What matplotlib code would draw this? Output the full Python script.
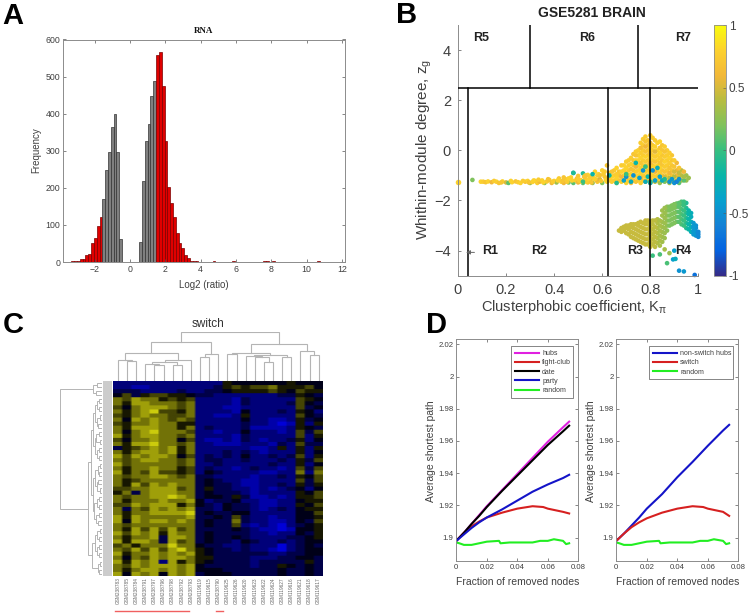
import numpy as np
from matplotlib import pyplot as plt
from matplotlib.colors import LinearSegmentedColormap

plt.rcParams["font.family"] = ["Liberation Sans", "DejaVu Sans"]
plt.rcParams["mathtext.default"] = "regular"

W, H = 750, 613

# panel A
hist_start = -3.25
hist_width = 0.16
hist_counts = [4, 3, 2, 7, 8, 20, 22, 50, 65, 98, 122, 170, 247, 296, 364, 398, 296, 63,
               0, 0, 0, 0, 0, 0,
               55, 219, 325, 372, 448, 488, 558, 566, 475, 327, 201, 160, 122, 78, 50, 39, 18, 12,
               2, 3, 3, 1, 1, 0, 1, 1, 2, 1, 0, 0, 1, 1, 1, 2, 1, 0, 0, 0, 1, 0, 1, 0, 1, 1, 3, 3,
               1, 2, 1, 1, 0, 0, 0, 1, 1, 0, 0, 1, 0, 1, 1, 0, 1, 2, 1, 0, 0, 0, 1, 0, 1]
hist_x_ticks = [-2, 0, 2, 4, 6, 8, 10, 12]
hist_y_ticks = [0, 100, 200, 300, 400, 500, 600]

# panel B
tail_x = [0.06, 0.095, 0.105, 0.115, 0.125, 0.14, 0.16, 0.17, 0.185, 0.2, 0.21, 0.225, 0.24, 0.25, 0.26,
          0.28, 0.29, 0.3, 0.31, 0.32, 0.33, 0.34, 0.35, 0.36, 0.37, 0.38, 0.39, 0.4, 0.41, 0.42, 0.43,
          0.44, 0.45, 0.46, 0.47, 0.48, 0.48, 0.49, 0.5, 0.5, 0.51, 0.52, 0.52, 0.53, 0.54, 0.54, 0.55,
          0.56, 0.56, 0.57, 0.58, 0.58, 0.59, 0.6, 0.6, 0.61, 0.62, 0.62, 0.63,
          0.15, 0.18, 0.22, 0.27, 0.295, 0.315, 0.335, 0.355, 0.375, 0.395, 0.415, 0.435, 0.455, 0.475, 0.495,
          0.505, 0.515, 0.525, 0.535, 0.545, 0.555, 0.565, 0.575, 0.585, 0.595, 0.605, 0.615, 0.625, 0.635,
          0.44, 0.46, 0.5, 0.53, 0.55, 0.57, 0.59, 0.61]
tail_y = [-1.18, -1.25, -1.25, -1.27, -1.24, -1.27, -1.25, -1.3, -1.24, -1.28, -1.3, -1.27, -1.24, -1.27, -1.3,
          -1.25, -1.22, -1.3, -1.26, -1.22, -1.3, -1.25, -1.2, -1.3, -1.24, -1.18, -1.3, -1.22, -1.28, -1.12, -1.25,
          -1.3, -1.16, -1.28, -1.08, -1.3, -0.9, -1.2, -1.28, -1.02, -1.18, -0.92, -1.3, -1.12, -1.28, -0.98, -1.2,
          -1.05, -1.3, -0.85, -1.25, -1.0, -1.15, -0.8, -1.3, -1.05, -0.6, -1.25, -0.9,
          -1.22, -1.28, -1.22, -1.22, -1.28, -1.2, -1.17, -1.28, -1.15, -1.25, -1.2, -1.22, -1.25, -1.2, -1.12,
          -1.22, -1.25, -1.05, -1.25, -1.15, -1.28, -1.12, -1.18, -0.95, -1.22, -0.95, -1.18, -1.1, -1.2,
          -1.08, -1.12, -1.15, -1.0, -1.05, -1.15, -1.0, -0.85]
tail_c = [0.2, 0.8, 0.75, 0.7, 0.8, 0.6, 0.8, 0.7, 0.8, 0.5, 0.1, 0.8, 0.7, 0.75, 0.8,
          0.7, 0.8, 0.3, 0.8, 0.7, 0.75, 0.6, 0.8, 0.2, 0.75, 0.7, 0.6, 0.8, 0.3, 0.75, 0.8,
          0.6, 0.75, 0.2, 0.8, 0.1, -0.3, 0.75, 0.6, 0.7, 0.8, -0.1, 0.1, 0.75, 0.7, 0.8, 0.6,
          0.75, 0.3, 0.8, 0.7, 0.75, 0.5, 0.8, 0.2, 0.7, 0.7, 0.8, 0.75,
          0.75, 0.7, 0.8, 0.75, 0.7, 0.8, 0.75, 0.8, 0.7, 0.75, 0.8, 0.7, 0.75, 0.8, 0.7,
          0.75, 0.8, 0.7, 0.75, 0.8, 0.7, 0.75, 0.6, 0.8, 0.7, 0.75, 0.8, 0.7, 0.75,
          0.7, 0.8, 0.75, 0.7, 0.75, 0.8, 0.7, 0.75]

upper_cols = [0.64, 0.66, 0.68, 0.70, 0.72, 0.74, 0.76, 0.78, 0.80, 0.82, 0.84, 0.86, 0.88, 0.90, 0.92, 0.94, 0.96]
upper_ys = [[-1.25, -1.05, -0.85],
            [-1.3, -1.1, -0.95, -0.7],
            [-1.25, -1.05, -0.85, -0.6],
            [-1.3, -1.1, -0.9, -0.7, -0.45],
            [-1.3, -1.15, -0.95, -0.75, -0.55, -0.3],
            [-1.25, -1.05, -0.85, -0.65, -0.4, -0.2, -0.05],
            [-1.3, -1.1, -0.9, -0.7, -0.5, -0.3, -0.1, 0.1, 0.3],
            [-1.25, -1.05, -0.85, -0.65, -0.45, -0.25, -0.05, 0.15, 0.35, 0.55],
            [-1.3, -1.1, -0.9, -0.7, -0.5, -0.3, -0.1, 0.1, 0.3, 0.6],
            [-1.25, -1.05, -0.85, -0.65, -0.45, -0.25, -0.05, 0.15, 0.4],
            [-1.3, -1.1, -0.9, -0.7, -0.5, -0.3, -0.1, 0.1, 0.35],
            [-1.25, -1.05, -0.85, -0.65, -0.45, -0.25, -0.05, 0.15],
            [-1.3, -1.1, -0.9, -0.7, -0.5, -0.3, -0.1],
            [-1.25, -1.05, -0.85, -0.65, -0.4],
            [-1.3, -1.1, -0.9, -0.7],
            [-1.2, -1.05, -0.85],
            [-1.1]]
upper_cs = [[0.75, 0.8, 0.7],
            [0.7, 0.8, 0.75, 0.8],
            [0.75, 0.6, 0.8, 0.75],
            [0.8, 0.7, 0.75, 0.8, 0.75],
            [0.6, 0.75, 0.8, 0.7, 0.8, 0.75],
            [0.7, 0.8, 0.75, 0.6, 0.8, 0.7, 0.75],
            [0.75, 0.6, 0.8, 0.75, 0.7, 0.8, 0.75, 0.65, 0.75],
            [0.6, 0.75, 0.8, 0.5, 0.75, 0.8, 0.7, 0.6, 0.7, 0.75],
            [0.5, 0.7, 0.8, 0.75, 0.6, 0.8, 0.7, 0.75, 0.65, 0.75],
            [0.4, 0.75, 0.6, 0.8, 0.7, 0.75, 0.55, 0.8, 0.75],
            [0.3, 0.6, 0.75, 0.8, 0.7, 0.75, 0.8, 0.7, 0.8],
            [0.2, 0.5, 0.7, 0.75, 0.8, 0.75, 0.7, 0.75],
            [0.3, 0.4, 0.6, 0.7, 0.75, 0.8, 0.75],
            [0.2, 0.4, 0.5, 0.7, 0.75],
            [0.1, 0.4, 0.45, 0.7],
            [0.1, 0.35, 0.6],
            [0.3]]
upper2_cols = [0.65, 0.67, 0.69, 0.71, 0.73, 0.75, 0.77, 0.79, 0.81, 0.83, 0.85, 0.87, 0.89, 0.91, 0.93, 0.95]
upper2_ys = [[-1.2, -1.0, -0.8],
             [-1.2, -1.0, -0.85],
             [-1.2, -1.0, -0.8, -0.6],
             [-1.2, -1.0, -0.8, -0.6, -0.4],
             [-1.2, -1.0, -0.8, -0.6, -0.4, -0.15],
             [-1.2, -1.0, -0.8, -0.6, -0.4, -0.2, 0.0],
             [-1.2, -1.0, -0.8, -0.6, -0.4, -0.2, 0.0, 0.2, 0.45],
             [-1.2, -1.0, -0.8, -0.6, -0.4, -0.2, 0.0, 0.2, 0.4],
             [-1.2, -1.0, -0.8, -0.6, -0.4, -0.2, 0.0, 0.2, 0.5],
             [-1.2, -1.0, -0.8, -0.6, -0.4, -0.2, 0.0, 0.3],
             [-1.2, -1.0, -0.8, -0.6, -0.4, -0.2, 0.0, 0.2],
             [-1.2, -1.0, -0.8, -0.6, -0.4, -0.2, 0.0],
             [-1.2, -1.0, -0.8, -0.6, -0.4, -0.2],
             [-1.2, -1.0, -0.8, -0.5],
             [-1.2, -1.0, -0.8],
             [-1.2, -1.0]]
upper2_cs = [0.75, 0.7, 0.8, 0.75, 0.7, 0.8, 0.75, 0.7, 0.75, 0.8, 0.7, 0.75, 0.7, 0.6, 0.4, 0.3]
blue_x = [0.48, 0.52, 0.56, 0.63, 0.66, 0.69, 0.7, 0.7, 0.72, 0.73, 0.74, 0.755, 0.77, 0.78, 0.79, 0.8, 0.8, 0.81, 0.82,
          0.83, 0.85, 0.86, 0.88, 0.89, 0.9, 0.91, 0.92, 0.78, 0.84]
blue_y = [-0.9, -1.25, -0.95, -1.0, -1.3, -1.2, -1.05, -0.95, -1.25, -1.0, -0.5, -1.1, -0.8, -1.25, -1.05, -1.3, -1.25, -0.8, -1.2,
          -0.7, -1.2, -1.15, -1.25, -1.15, -1.3, -1.25, -1.15, -0.65, -1.05]
blue_c = [-0.1, 0.0, -0.2, -0.2, -0.1, -0.4, -0.5, 0.0, -0.3, -0.5, -0.2, -0.4, -0.5, -0.3, -0.2, -0.4, -0.1, -0.5, -0.4,
          -0.3, -0.3, -0.1, -0.5, -0.45, -0.5, -0.6, -0.5, 0.0, -0.4]

lower_cols = [0.67, 0.68, 0.70, 0.72, 0.74, 0.76, 0.78, 0.80, 0.82, 0.84, 0.86, 0.88, 0.90, 0.92, 0.94, 0.96, 0.98, 1.0]
lower_ys = [[-3.2], [-3.25, -3.1], [-3.3, -3.1, -3.0], [-3.45, -3.25, -3.05, -2.95],
            [-3.55, -3.35, -3.15, -2.95], [-3.65, -3.45, -3.25, -3.05, -2.85],
            [-3.75, -3.55, -3.35, -3.15, -2.95, -2.8], [-3.85, -3.65, -3.45, -3.25, -3.05, -2.85],
            [-3.85, -3.65, -3.45, -3.25, -3.05, -2.8], [-3.8, -3.6, -3.4, -3.2, -3.0, -2.8],
            [-3.5, -3.3, -3.1, -2.9, -2.7, -2.5, -2.3], [-3.0, -2.8, -2.6, -2.4, -2.25],
            [-2.9, -2.7, -2.5, -2.3, -2.15], [-2.85, -2.65, -2.45, -2.25, -2.1],
            [-3.0, -2.8, -2.6, -2.4, -2.2, -2.05], [-3.15, -2.95, -2.75, -2.55, -2.4],
            [-3.35, -3.2, -3.05, -2.9], [-3.45, -3.35, -3.25]]
lower_cs = [0.45, 0.45, 0.45, 0.45, 0.45, 0.45, 0.45, 0.45, 0.42, 0.35, 0.3, 0.2, 0.2, 0.1, 0.0, -0.2, -0.45, -0.55]
lower2_cols = [0.69, 0.71, 0.73, 0.75, 0.77, 0.79, 0.81, 0.83, 0.85, 0.87, 0.89, 0.91, 0.93, 0.95, 0.97, 0.99]
lower2_ys = [[-3.2, -3.05], [-3.35, -3.15, -3.0], [-3.5, -3.3, -3.1, -2.95], [-3.6, -3.4, -3.2, -3.0, -2.9],
             [-3.7, -3.5, -3.3, -3.1, -2.9], [-3.75, -3.55, -3.35, -3.15, -2.95, -2.8],
             [-3.75, -3.55, -3.35, -3.15, -2.95, -2.8], [-3.7, -3.5, -3.3, -3.1, -2.9, -2.75],
             [-3.65, -3.45, -3.25, -3.05, -2.85, -2.6, -2.4], [-3.2, -3.0, -2.8, -2.6, -2.4, -2.25],
             [-2.95, -2.75, -2.55, -2.35, -2.2], [-2.85, -2.65, -2.45, -2.25, -2.12],
             [-2.95, -2.75, -2.55, -2.35, -2.15, -2.05], [-3.1, -2.9, -2.7, -2.5, -2.3, -2.1],
             [-3.25, -3.05, -2.85, -2.65, -2.5], [-3.4, -3.25, -3.1, -3.0]]
lower2_cs = [0.45, 0.45, 0.45, 0.45, 0.45, 0.45, 0.42, 0.38, 0.32, 0.25, 0.2, 0.15, 0.05, -0.1, -0.3, -0.5]
stray_x = [0.81, 0.84, 0.86, 0.87, 0.88, 0.895, 0.9, 0.905, 0.92, 0.94, 0.985]
stray_y = [-4.2, -4.15, -3.95, -4.5, -4.1, -4.35, -4.0, -4.33, -4.8, -4.83, -4.97]
stray_c = [0.0, 0.05, 0.35, 0.05, 0.3, -0.4, -0.4, -0.3, -0.5, -0.45, -0.7]
region_names = ["R5", "R6", "R7", "R1", "R2", "R3", "R4"]
region_x = [0.097, 0.537, 0.935, 0.132, 0.336, 0.737, 0.9375]
region_y = [4.47, 4.47, 4.47, -4.03, -4.03, -4.03, -4.03]

# panel C, one digit per cell: 0 bright blue, 4 black, 9 bright yellow
heat_rows = [
    "222222222 222 54444445 444",
    "221122222 223 56566755 564",
    "333222232 233 45555654 655",
    "463566554 332 22222233 543",
    "768775656 222 21322222 654",
    "758877767 222 21322223 643",
    "647888767 222 11222222 634",
    "757896657 222 21422232 542",
    "657877667 221 12522222 643",
    "748787676 222 22422112 534",
    "657787755 222 22322101 525",
    "758887757 232 22311112 543",
    "747897776 221 22422212 636",
    "857887767 222 21322222 625",
    "647787746 211 21321223 524",
    "758897767 221 11222132 633",
    "356787857 222 22211252 525",
    "757887857 222 32321222 524",
    "868788746 232 32422323 625",
    "767887767 233 22322232 536",
    "867777767 223 22222322 524",
    "757787756 232 21232212 636",
    "857686656 243 22221122 727",
    "767788767 332 22212232 546",
    "756777777 343 22112222 636",
    "758687877 343 32112232 535",
    "667788867 353 32212123 424",
    "573788877 343 33212222 546",
    "767788987 344 35311212 556",
    "757778778 423 34221122 455",
    "668788857 432 43321122 546",
    "737687878 332 43321232 455",
    "757788889 343 34422222 446",
    "858777778 334 36322122 445",
    "848788787 343 37322112 436",
    "767777777 343 36212102 345",
    "758686867 333 34321101 445",
    "868785877 343 33322122 435",
    "757783887 343 34322223 345",
    "858873867 343 32432232 344",
    "675777977 433 22322202 343",
    "768686897 543 32322102 344",
    "857787878 543 33333223 344",
    "747687887 553 33322233 443",
    "858782857 543 33323333 353",
    "768788878 433 33323354 343",
    "757887878 444 33333343 343",
    "848784878 344 43333343 343",
]
heat_labels = ["GSM238783", "GSM238785", "GSM238784", "GSM238791", "GSM238797", "GSM238796", "GSM238798",
               "GSM238792", "GSM238793", "GSM119619", "GSM119615", "GSM238790", "GSM119625", "GSM119626",
               "GSM119620", "GSM119623", "GSM119622", "GSM119624", "GSM119627", "GSM119616", "GSM119621",
               "GSM119618", "GSM119617"]

# column tree, (merge height, left, right), leaves are column numbers
col_left = (115, (82, (62, 0, (58, 1, 2)), (62, (54, (48, 3, (45, 4, 5)), (45, 6, 7)), 8)), (78, (70, 9, 10), 11))
col_mid = (83, (78, 12, 13), (75, (72, 14, (70, 15, (55, 16, 17))), (70, 18, 19)))
col_tree = (145, col_left, (107, col_mid, (88, 20, (77, 21, 22))))

# row tree, leaves are row numbers
q1 = (16, (8, 4, 5), (10, 6, 7))
q2 = (14, (7, 8, 9), (11, 10, 11))
q3 = (17, (9, 12, 13), (6, 14, 15))
q4 = (15, (10, 16, 17), (8, 18, 19))
q5 = (13, (7, 20, 21), (9, 22, 23))
q6 = (16, (11, 24, 25), (6, 26, 27))
q7 = (14, (8, 28, 29), (10, 30, 31))
q8 = (18, (9, 32, 33), (12, 34, 35))
q9 = (15, (7, 36, 37), (10, 38, 39))
q10 = (16, (9, 40, 41), (8, 42, 43))
q11 = (13, (6, 44, 45), (8, 46, 47))
row_upper = (32, (26, (20, q1, q2), (22, q3, q4)), (28, (21, q5, q6), (23, q7, q8)))
row_lower = (29, (20, q9, q10), q11)
row_top = (26, (14, 0, 1), (17, 2, 3))
row_tree = (125, row_top, (42, row_upper, row_lower))

# panel D
frac_a = [0, 0.005, 0.01, 0.015, 0.02, 0.03, 0.04, 0.05, 0.06, 0.07, 0.074]
hubs = [1.898, 1.903, 1.9085, 1.914, 1.9195, 1.9295, 1.9395, 1.9495, 1.9595, 1.9685, 1.972]
date = [1.898, 1.903, 1.9085, 1.9135, 1.919, 1.929, 1.9385, 1.948, 1.9575, 1.966, 1.9695]
party = [1.898, 1.902, 1.906, 1.9095, 1.9125, 1.9175, 1.923, 1.9285, 1.933, 1.937, 1.939]
frac_red = [0, 0.005, 0.01, 0.015, 0.02, 0.03, 0.04, 0.05, 0.057, 0.06, 0.07, 0.074]
fight_club = [1.898, 1.903, 1.907, 1.91, 1.9125, 1.9155, 1.918, 1.9195, 1.919, 1.918, 1.916, 1.915]
switch = [1.898, 1.9025, 1.9065, 1.9095, 1.912, 1.9155, 1.918, 1.9195, 1.919, 1.918, 1.916, 1.9135]
frac_rand = [0, 0.002, 0.005, 0.01, 0.015, 0.02, 0.028, 0.029, 0.035, 0.04, 0.05, 0.055, 0.06, 0.064, 0.07, 0.072, 0.074]
rand_path = [1.897, 1.8965, 1.8955, 1.8955, 1.8965, 1.8975, 1.898, 1.8965, 1.897, 1.897, 1.897, 1.898, 1.898, 1.899, 1.898, 1.896, 1.8965]
non_switch = [1.898, 1.9025, 1.9075, 1.9125, 1.918, 1.927, 1.9375, 1.947, 1.957, 1.9665, 1.97]
d_x_ticks = [0, 0.02, 0.04, 0.06, 0.08]
d_y_ticks = [1.9, 1.92, 1.94, 1.96, 1.98, 2, 2.02]

parula = LinearSegmentedColormap.from_list("parula", [
    (0.208, 0.166, 0.529), (0.012, 0.388, 0.882), (0.078, 0.504, 0.838), (0.024, 0.629, 0.804),
    (0.03, 0.71, 0.66), (0.216, 0.75, 0.5),
    (0.5, 0.76, 0.36), (0.72, 0.74, 0.25), (0.95, 0.72, 0.22), (0.99, 0.82, 0.18), (0.976, 0.983, 0.054)])
heat_cmap = LinearSegmentedColormap.from_list("heat", [(0, 0, 0.85), (0, 0, 0), (0.8, 0.8, 0.05)])

TEXT = "#404040"
AXIS = "#8c8c8c"


def px_axes(fig, x0, y0, x1, y1):
    return fig.add_axes([x0 / W, 1 - y1 / H, (x1 - x0) / W, (y1 - y0) / H])


def px_text(fig, x, y, s, **kw):
    kw.setdefault("ha", "center")
    kw.setdefault("va", "center")
    kw.setdefault("color", TEXT)
    fig.text(x / W, 1 - y / H, s, **kw)


def style_axes(ax, size):
    for side in ax.spines.values():
        side.set_color(AXIS)
        side.set_linewidth(0.7)
    ax.tick_params(direction="in", length=2, width=0.5, color="#555555", labelsize=size,
                   labelcolor=TEXT, pad=2)


def tree_lines(node, lines):
    # returns leaf position and height, collecting the bracket lines
    if not isinstance(node, tuple):
        return node + 0.5, 0
    h, left, right = node
    p1, h1 = tree_lines(left, lines)
    p2, h2 = tree_lines(right, lines)
    lines.append(([p1, p1, p2, p2], [h1, h, h, h2]))
    return (p1 + p2) / 2, h


def flatten_cols(cols, col_ys, col_cs):
    # col_cs holds one colour per column or one per point
    xs, ys, cs = [], [], []
    for col, y_list, c_list in zip(cols, col_ys, col_cs):
        if not isinstance(c_list, list):
            c_list = [c_list] * len(y_list)
        for y, c in zip(y_list, c_list):
            xs.append(col)
            ys.append(y)
            cs.append(c)
    return xs, ys, cs


def draw_hist(fig):
    ax = px_axes(fig, 63.3, 39.5, 345, 262)
    x = [hist_start + hist_width * i for i in range(len(hist_counts))]
    for xi, count in zip(x, hist_counts):
        if count == 0:
            continue
        red = xi < -1.57 or xi > 1.45
        ax.bar(xi, count, width=hist_width, color="#e00000" if red else "#7f7f7f",
               edgecolor="#7a0000" if red else "#333333", linewidth=0.5)
    ax.set_xlim(-3.78, 12.17)
    ax.set_ylim(0, 600)
    ax.set_xticks(hist_x_ticks)
    ax.set_yticks(hist_y_ticks)
    style_axes(ax, 6.3)
    ax.tick_params(top=True, right=True)
    px_text(fig, 204, 31, "RNA", family="Liberation Serif", weight="bold", size=6.5, color="#111111")
    px_text(fig, 204, 285, "Log2 (ratio)", size=7)
    px_text(fig, 36, 150, "Frequency", size=7, rotation=90)


def draw_scatter(fig):
    ax = px_axes(fig, 458, 25, 698.3, 275.7)
    x1, y1, c1 = flatten_cols(upper_cols, upper_ys, upper_cs)
    x2, y2, c2 = flatten_cols(upper2_cols, upper2_ys, upper2_cs)
    x3, y3, c3 = flatten_cols(lower_cols, lower_ys, lower_cs)
    x4, y4, c4 = flatten_cols(lower2_cols, lower2_ys, lower2_cs)
    xs = tail_x + x2 + x1 + blue_x + x4 + x3 + stray_x
    ys = tail_y + y2 + y1 + blue_y + y4 + y3 + stray_y
    cs = tail_c + c2 + c1 + blue_c + c4 + c3 + stray_c
    sc = ax.scatter(xs, ys, c=cs, cmap=parula, vmin=-1, vmax=1, s=11, linewidths=0, zorder=2, clip_on=False)
    ax.scatter([0], [-1.27], c=[0.8], cmap=parula, vmin=-1, vmax=1, s=16, linewidths=0, clip_on=False, zorder=2)
    ax.plot([0, 1], [2.5, 2.5], color="black", lw=1.1, zorder=3)
    for x in [0.04, 0.625, 0.8]:
        ax.plot([x, x], [-5, 2.5], color="black", lw=1.1, zorder=3)
    for x in [0.3, 0.75]:
        ax.plot([x, x], [2.5, 5], color="black", lw=1.1, zorder=3)
    for name, x, y in zip(region_names, region_x, region_y):
        ax.text(x, y, name, ha="center", va="center", weight="bold", size=9, color="#222222", zorder=4)
    ax.annotate("", xy=(0.022, -4.07), xytext=(0.08, -4.07),
                arrowprops=dict(arrowstyle="-|>", color="#666666", lw=0.7, mutation_scale=6))
    ax.set_xlim(0, 1)
    ax.set_ylim(-5, 5)
    ax.set_xticks([0, 0.2, 0.4, 0.6, 0.8, 1])
    ax.set_xticklabels(["0", "0.2", "0.4", "0.6", "0.8", "1"])
    ax.set_yticks([-4, -2, 0, 2, 4])
    style_axes(ax, 10.5)
    ax.tick_params(pad=5)
    ax.spines["top"].set_visible(False)
    ax.spines["right"].set_visible(False)
    cax = px_axes(fig, 714, 25, 726, 275.7)
    bar = fig.colorbar(sc, cax=cax)
    bar.set_ticks([-1, -0.5, 0, 0.5, 1])
    bar.set_ticklabels(["-1", "-0.5", "0", "0.5", "1"])
    bar.outline.set_edgecolor(AXIS)
    bar.outline.set_linewidth(0.6)
    cax.tick_params(direction="in", length=2, width=0.4, labelsize=8.5, labelcolor=TEXT, pad=2, color="#555555")
    px_text(fig, 592, 13, "GSE5281 BRAIN", weight="bold", size=10, color="#222222")
    px_text(fig, 424, 149, "Whithin-module degree, $z_g$", size=11, rotation=90)
    px_text(fig, 574, 307, r"Clusterphobic coefficient, $K_\pi$", size=10.5)


def draw_heatmap(fig):
    ax = px_axes(fig, 113.3, 381, 323.3, 575.7)
    cells = np.array([[int(d) for d in row.replace(" ", "")] for row in heat_rows])
    # repeat the cells so the smoothing only softens their edges
    cells = np.repeat(np.repeat(cells, 4, axis=0), 4, axis=1)
    ax.imshow(cells, cmap=heat_cmap, vmin=0, vmax=9, aspect="auto", interpolation="bilinear",
              extent=(0, 23, 48, 0))
    ax.axis("off")

    top = px_axes(fig, 113.3, 331.7, 323.3, 380.5)
    lines = []
    tree_lines(col_tree, lines)
    for px, py in lines:
        top.plot(px, py, color="#b4b4b4", lw=0.8, solid_joinstyle="miter")
    top.set_xlim(0, 23)
    top.set_ylim(0, 145)
    top.axis("off")

    side = px_axes(fig, 60, 381, 102, 575.7)
    lines = []
    tree_lines(row_tree, lines)
    for py, px in lines:
        side.plot(px, py, color="#b4b4b4", lw=0.7, solid_joinstyle="miter")
    side.set_xlim(125, 0)
    side.set_ylim(48, 0)
    side.axis("off")

    strip = px_axes(fig, 103, 381, 112, 575.7)
    strip.set_facecolor("#cccccc")
    strip.set_xticks([])
    strip.set_yticks([])
    for s in strip.spines.values():
        s.set_visible(False)

    for i, name in enumerate(heat_labels):
        ax.text(i + 0.5, 48.4, name, rotation=90, ha="center", va="top", size=3.4, color="#666666", clip_on=False)
    px_text(fig, 207.7, 324, "switch", size=8.5, color="#333333")
    under = px_axes(fig, 113.3, 609, 323.3, 613)
    under.plot([0.2, 8.3], [0.5, 0.5], color="#f06060", lw=1)
    under.plot([11.3, 12.0], [0.5, 0.5], color="#f06060", lw=1)
    under.set_xlim(0, 23)
    under.set_ylim(0, 1)
    under.axis("off")


def draw_path_axes(fig, x0, curves, legend_box):
    ax = px_axes(fig, x0, 339.3, x0 + 122, 561)
    for x, y, color, name in curves:
        ax.plot(x, y, color=color, lw=1.5, label=name)
    ax.set_xlim(0, 0.08)
    ax.set_ylim(1.8855, 2.0231)
    ax.set_xticks(d_x_ticks)
    ax.set_xticklabels(["0", "0.02", "0.04", "0.06", "0.08"])
    ax.set_yticks(d_y_ticks)
    ax.set_yticklabels(["1.9", "1.92", "1.94", "1.96", "1.98", "2", "2.02"])
    style_axes(ax, 5.6)
    ax.tick_params(top=True, right=True)
    leg = ax.legend(loc="upper left", bbox_to_anchor=legend_box, bbox_transform=fig.transFigure, mode="expand",
                    fontsize=5, frameon=True, fancybox=False, borderpad=0.55, labelspacing=0.32, handlelength=3.5,
                    handletextpad=0.4, borderaxespad=0, framealpha=1)
    leg.get_frame().set_edgecolor("#555555")
    leg.get_frame().set_linewidth(0.5)
    for t in leg.get_texts():
        t.set_color(TEXT)
    px_text(fig, x0 + 61, 582, "Fraction of removed nodes", size=7.5)
    px_text(fig, x0 - 25, 451, "Average shortest path", size=7.5, rotation=90)


def main():
    fig = plt.figure(figsize=(W / 100, H / 100), dpi=100)

    draw_hist(fig)
    draw_scatter(fig)
    draw_heatmap(fig)

    left_curves = [(frac_a, hubs, "#e020e0", "hubs"),
                   (frac_red, fight_club, "#d62020", "fight-club"),
                   (frac_a, date, "black", "date"),
                   (frac_a, party, "#1414c8", "party"),
                   (frac_rand, rand_path, "#22ee22", "random")]
    right_curves = [(frac_a, non_switch, "#1414c8", "non-switch hubs"),
                    (frac_red, switch, "#d62020", "switch"),
                    (frac_rand, rand_path, "#22ee22", "random")]
    draw_path_axes(fig, 456.3, left_curves, (511.3 / W, 1 - 346.3 / H, 62 / W, 0))
    draw_path_axes(fig, 616.3, right_curves, (649.3 / W, 1 - 346.3 / H, 84 / W, 0))

    for letter, x, y in [("A", 13, 24), ("B", 407, 23), ("C", 13, 333), ("D", 436, 333)]:
        px_text(fig, x, y, letter, weight="bold", size=21, color="black", va="baseline")

    fig.savefig("out.png", dpi=100)


if __name__ == "__main__":
    main()
